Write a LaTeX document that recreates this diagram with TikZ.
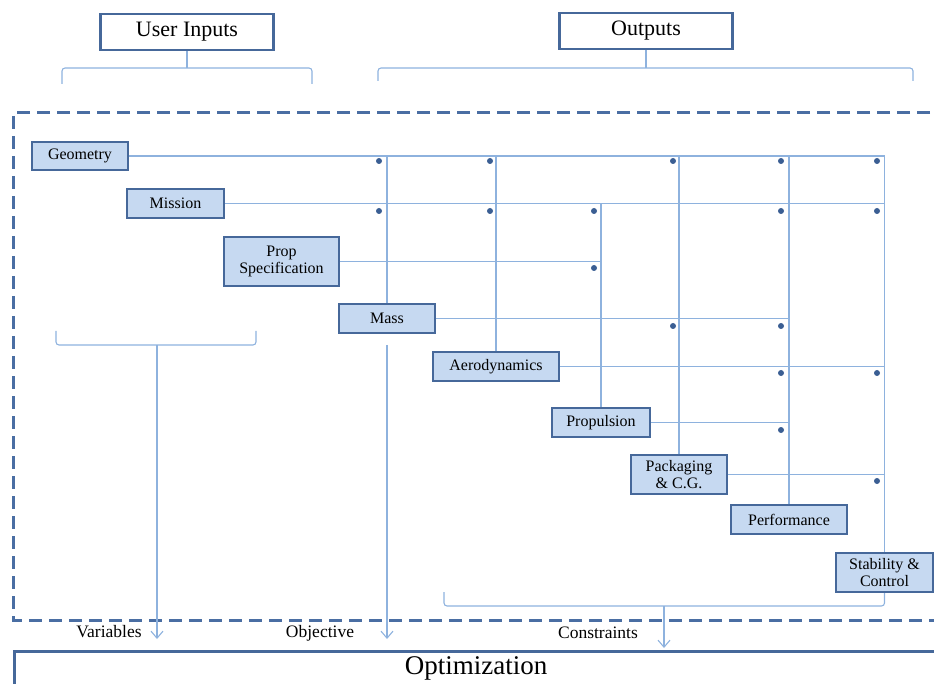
\documentclass[tikz,border=0pt]{standalone}
\usepackage{fontspec}
\setmainfont{Liberation Serif}
\usetikzlibrary{arrows.meta}
\definecolor{boxfill}{HTML}{C6D9F1}
\definecolor{boxline}{HTML}{46689A}
\definecolor{conline}{HTML}{8EB2DE}
\definecolor{dotcol}{HTML}{3A5E93}
\definecolor{dashcol}{HTML}{4A6EA3}
\tikzset{
  blk/.style={draw=boxline, line width=2pt, fill=boxfill, inner sep=0pt, align=center,
    font=\fontsize{16}{17.5}\selectfont},
  topbox/.style={draw=boxline, line width=2.5pt, fill=white, inner sep=0pt,
    minimum width=173pt, minimum height=36pt, font=\fontsize{22}{24}\selectfont},
  conn/.style={draw=conline, line width=1.1pt},
  brk/.style={draw=conline, line width=1.1pt, rounded corners=3pt},
  arr/.style={draw=conline, line width=1.1pt, -{Straight Barb[length=7pt,width=12pt]}},
  lbl/.style={inner sep=0pt, font=\fontsize{17.5}{19}\selectfont},
  dot/.style={fill=dotcol}
}
\begin{document}
\begin{tikzpicture}[x=1pt,y=-1pt]
\useasboundingbox (0,0) rectangle (934,684);
\clip (0,0) rectangle (934,684);
% top boxes
\node[topbox] (ui) at (187,32) {User Inputs};
\node[topbox] (out) at (646,31) {Outputs};
\coordinate (uib) at (187,68);
\coordinate (outb) at (646,68);
\draw[brk] (62,84) -- (62,68) -- (312,68) -- (312,84);
\draw[conn] (ui.south) -- (uib);
\draw[brk] (378,81) -- (378,68) -- (913,68) -- (913,81);
\draw[conn] (out.south) -- (outb);
% dashed frame
\draw[dashcol, line width=3pt, dash pattern=on 13pt off 7pt] (950,113) -- (13,113) -- (13,620) -- (950,620);
% optimization box
\node[draw=boxline, line width=2.5pt, fill=white, minimum width=940pt, minimum height=60pt, anchor=north west, inner sep=0pt] (optbox) at (13,650) {};
\node[inner sep=0pt, font=\fontsize{27}{29}\selectfont] (opt) at (476,668) {Optimization};
% blocks
\node[blk, minimum width=96pt, minimum height=28pt] (geo) at (80,156) {Geometry};
\node[blk, minimum width=97pt, minimum height=29pt] (mis) at (175.5,203.5) {Mission};
\node[blk, minimum width=115pt, minimum height=49pt] (prop) at (281.5,261.5) {Prop\\Specification};
\node[blk, minimum width=96pt, minimum height=29pt] (mass) at (387,318.5) {Mass};
\node[blk, minimum width=126pt, minimum height=29pt] (aero) at (496,366.5) {Aerodynamics};
\node[blk, minimum width=98pt, minimum height=29pt] (propu) at (601,422.5) {Propulsion};
\node[blk, minimum width=96pt, minimum height=39pt] (pack) at (679,474.5) {Packaging\\\& C.G.};
\node[blk, minimum width=116pt, minimum height=29pt] (perf) at (789,519.5) {Performance};
\node[blk, minimum width=97pt, minimum height=39pt] (stab) at (884.5,572.5) {Stability \&\\Control};
% connectors
\draw[conn] (geo.east) -- (geo.east -| stab.north) -- (stab.north);
\draw[conn] (mis.east) -- (mis.east -| stab.north);
\draw[conn] (prop.east) -- (prop.east -| propu.north);
\draw[conn] (mass.east) -- (mass.east -| perf.north);
\draw[conn] (aero.east) -- (aero.east -| stab.north);
\draw[conn] (propu.east) -- (propu.east -| perf.north);
\draw[conn] (pack.east) -- (pack.east -| stab.north);
\draw[conn] (mass.north) -- (mass.north |- geo.east);
\draw[conn] (aero.north) -- (aero.north |- geo.east);
\draw[conn] (propu.north) -- (propu.north |- mis.east);
\draw[conn] (pack.north) -- (pack.north |- geo.east);
\draw[conn] (perf.north) -- (perf.north |- geo.east);
% dots
\foreach \x/\y in {379/161,490/161,673/161,781/161,877/161,
                   379/211,490/211,594/211,781/211,877/211,
                   594/268,673/326,781/326,781/373,877/373,781/430,877/481}
  \fill[dot] (\x,\y) circle (3pt);
% variables
\draw[brk] (56,331) -- (56,345) -- (256,345) -- (256,331);
\coordinate (varb) at (157,345);
\coordinate (vare) at (157,639);
\draw[arr] (varb) -- (vare);
\node[lbl] (var) at (109,632) {Variables};
% objective
\coordinate (objb) at (387,345);
\coordinate (obje) at (387,639);
\draw[arr] (objb) -- (obje);
\node[lbl] (obj) at (320,633) {Objective};
% constraints
\coordinate (conb) at (664,606);
\coordinate (cone) at (664,648);
\draw[brk] (stab.south) -- (stab.south |- conb) -- (444,606) -- (444,592);
\draw[arr] (conb) -- (cone);
\node[lbl] (con) at (598,633) {Constraints};
\end{tikzpicture}
\end{document}
